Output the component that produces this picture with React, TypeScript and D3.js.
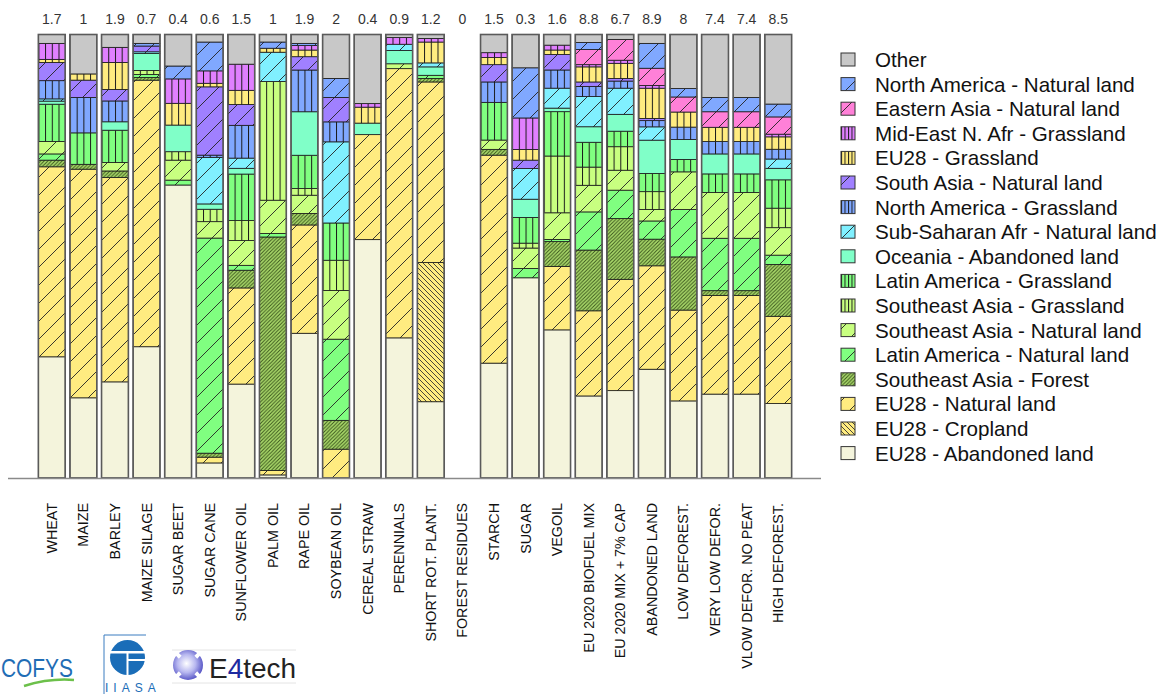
import { useMemo } from "react";
import * as d3 from "d3";

const categories = [
  "WHEAT", "MAIZE", "BARLEY", "MAIZE SILAGE", "SUGAR BEET", "SUGAR CANE",
  "SUNFLOWER OIL", "PALM OIL", "RAPE OIL", "SOYBEAN OIL", "CEREAL STRAW",
  "PERENNIALS", "SHORT ROT. PLANT.", "FOREST RESIDUES", "STARCH", "SUGAR",
  "VEGOIL", "EU 2020 BIOFUEL MIX", "EU 2020 MIX + 7% CAP", "ABANDONED LAND",
  "LOW DEFOREST.", "VERY LOW DEFOR.", "VLOW DEFOR. NO PEAT", "HIGH DEFOREST.",
];

const totals = [1.7, 1, 1.9, 0.7, 0.4, 0.6, 1.5, 1, 1.9, 2, 0.4, 0.9, 1.2, 0, 1.5, 0.3, 1.6, 8.8, 6.7, 8.9, 8, 7.4, 7.4, 8.5];

// shares (%) per category, stack order bottom -> top
const eu28Abandoned = [27.3, 18.1, 21.7, 29.6, 66.0, 3.4, 21.2, 0.7, 32.6, 0, 53.8, 31.6, 17.2, 0, 25.9, 45.1, 33.4, 18.5, 19.7, 24.5, 17.4, 18.9, 18.9, 16.8];
const eu28Cropland = [0, 0, 0, 0, 0, 0, 0, 0, 0, 0, 0, 0, 31.4, 0, 0, 0, 0, 0, 0, 0, 0, 0, 0, 0];
const eu28Natural = [42.8, 51.6, 46.1, 60.1, 0, 1.3, 21.7, 1.0, 24.4, 6.5, 23.7, 60.7, 40.7, 0, 46.9, 0, 14.3, 19.2, 25.1, 23.3, 20.5, 22.2, 22.2, 19.7];
const seAsiaForest = [1.5, 1.1, 1.5, 0.6, 0, 0.9, 4.0, 52.7, 2.6, 6.5, 0, 0, 0.8, 0, 1.3, 0, 5.6, 13.7, 13.7, 6.0, 12.0, 1.1, 1.1, 11.7];
const latAmNatural = [1.4, 0, 0, 0.7, 1.1, 48.5, 1.1, 0.8, 0, 18.3, 0, 0, 0.7, 0, 0, 2.1, 0.5, 8.6, 6.4, 4.1, 10.7, 11.8, 11.8, 2.1];
const seAsiaNatural = [2.8, 0, 1.9, 0, 4.5, 3.7, 5.6, 7.5, 4.1, 11.0, 0, 1.1, 0, 0, 2.1, 4.6, 6.0, 6.0, 4.5, 2.6, 8.5, 10.3, 10.3, 6.2];
const seAsiaGrass = [0, 0, 0, 0.9, 1.9, 2.8, 4.5, 26.8, 1.5, 6.8, 0, 0, 0, 0, 0, 1.1, 12.8, 4.1, 5.3, 4.0, 0, 0, 0, 4.4];
const latAmGrass = [8.4, 7.1, 7.3, 0, 0, 0, 10.5, 0, 7.5, 8.4, 0, 0, 0, 0, 8.5, 5.8, 10.0, 5.6, 3.5, 4.1, 2.8, 4.2, 4.2, 6.4];
const oceaniaAbandoned = [0.7, 0, 1.9, 3.8, 6.0, 1.2, 1.3, 0, 9.8, 0, 2.6, 3.0, 1.9, 0, 0, 4.1, 0.8, 3.5, 3.8, 7.5, 4.5, 4.5, 4.5, 2.6];
const subSaharanNatural = [0.5, 0, 0, 0.4, 0, 10.5, 2.3, 6.6, 0, 18.3, 0, 1.4, 0.9, 0, 0, 6.9, 4.5, 6.8, 5.9, 3.0, 0, 0, 0, 2.1];
const nAmGrass = [4.1, 8.0, 4.7, 0, 0, 0.5, 7.4, 0, 9.4, 4.5, 0, 0, 0, 0, 4.6, 0, 4.1, 2.3, 1.6, 1.4, 2.8, 2.8, 2.8, 2.2];
const southAsiaNatural = [4.1, 3.9, 2.6, 1.3, 0, 15.4, 4.7, 0, 3.0, 5.5, 0, 0, 0, 0, 3.9, 1.9, 3.5, 1.0, 0.6, 0.5, 0, 0, 0, 0];
const eu28Grass = [0.7, 1.4, 6.1, 0, 4.9, 0.8, 3.2, 0.9, 1.5, 0, 3.6, 0, 4.7, 0, 1.6, 2.4, 1.0, 3.4, 3.4, 6.8, 3.4, 3.2, 3.2, 2.8];
const midEastGrass = [3.6, 0, 3.4, 0, 5.5, 2.8, 5.9, 0, 1.0, 0, 0.8, 1.5, 0.8, 0, 1.1, 7.1, 1.1, 0.5, 0.7, 0.6, 0, 0, 0, 0.6];
const eastAsiaNatural = [0, 0, 0, 0, 0, 0, 0, 0, 0, 0, 0, 0, 0, 0, 0, 0, 0, 3.4, 4.7, 3.9, 3.4, 3.5, 3.5, 3.9];
const nAmNatural = [0, 0, 0, 0.6, 2.9, 6.5, 0, 1.4, 0.5, 4.3, 0, 0, 0, 0, 0, 11.3, 0, 1.6, 0, 5.6, 1.9, 3.2, 3.2, 2.9];
const other = [2.0, 8.9, 2.9, 2.0, 7.1, 1.7, 6.7, 1.7, 2.0, 9.9, 15.6, 0.7, 0.9, 0, 4.1, 7.5, 2.4, 1.8, 1.1, 2.0, 12.2, 14.2, 14.2, 15.7];

const seriesNames = [
  "EU28 - Abandoned land", "EU28 - Cropland", "EU28 - Natural land",
  "Southeast Asia - Forest", "Latin America - Natural land",
  "Southeast Asia - Natural land", "Southeast Asia - Grassland",
  "Latin America - Grassland", "Oceania - Abandoned land",
  "Sub-Saharan Afr - Natural land", "North America - Grassland",
  "South Asia - Natural land", "EU28 - Grassland", "Mid-East N. Afr - Grassland",
  "Eastern Asia - Natural land", "North America - Natural land", "Other",
];
const seriesValues = [
  eu28Abandoned, eu28Cropland, eu28Natural, seAsiaForest, latAmNatural,
  seAsiaNatural, seAsiaGrass, latAmGrass, oceaniaAbandoned, subSaharanNatural,
  nAmGrass, southAsiaNatural, eu28Grass, midEastGrass, eastAsiaNatural,
  nAmNatural, other,
];

// fill colour + hatch type per series
const styles = {
  "EU28 - Abandoned land": ["#f4f4dc", null],
  "EU28 - Cropland": ["#ffec80", "back"],
  "EU28 - Natural land": ["#ffec80", "diag"],
  "Southeast Asia - Forest": ["#acdc6c", "dense"],
  "Latin America - Natural land": ["#80ff80", "diag"],
  "Southeast Asia - Natural land": ["#c8ff80", "diag"],
  "Southeast Asia - Grassland": ["#c8ff80", "vert"],
  "Latin America - Grassland": ["#80ff80", "vert"],
  "Oceania - Abandoned land": ["#80ffc8", null],
  "Sub-Saharan Afr - Natural land": ["#80f0ff", "diag"],
  "North America - Grassland": ["#80a8ff", "vert"],
  "South Asia - Natural land": ["#a080ff", "diag"],
  "EU28 - Grassland": ["#ffec80", "vert"],
  "Mid-East N. Afr - Grassland": ["#e080ff", "vert"],
  "Eastern Asia - Natural land": ["#ff80d8", "diag"],
  "North America - Natural land": ["#80a8ff", "diag"],
  "Other": ["#c8c8c8", null],
};

const W = 1161;
const H = 694;
const font = "'Liberation Sans', Arial, sans-serif";

export default function App() {
  const { stacked, x, y } = useMemo(() => {
    const rows = categories.map((c, i) => {
      const r = { cat: c };
      seriesNames.forEach((s, k) => (r[s] = seriesValues[k][i]));
      return r;
    });
    const stacked = d3.stack().keys(seriesNames).offset(d3.stackOffsetExpand)(rows);
    const x = d3.scaleBand().domain(categories).range([36, 794]).paddingInner(0.15).paddingOuter(0.075);
    const y = d3.scaleLinear().domain([0, 1]).range([478, 34.5]);
    return { stacked, x, y };
  }, []);

  const bw = x.bandwidth();
  const legendItems = seriesNames.slice().reverse();

  const segment = (key, x0, y0, w, h, k) => {
    const [color, pat] = styles[key];
    return (
      <g key={k}>
        <rect x={x0} y={y0} width={w} height={h} fill={color} />
        <rect x={x0} y={y0} width={w} height={h}
          fill={pat ? `url(#p-${pat})` : "none"} stroke="#1a1a1a" strokeWidth={0.8} />
      </g>
    );
  };

  return (
    <div style={{ position: "absolute", left: 0, top: 0 }}>
      <svg width={W} height={H} style={{ display: "block", fontFamily: font }}>
        <defs>
          <pattern id="p-diag" patternUnits="userSpaceOnUse" width={18} height={18}>
            <path d="M0,18L18,0M-3,3L3,-3M15,21L21,15" stroke="#222" strokeWidth={0.9} />
          </pattern>
          <pattern id="p-vert" patternUnits="objectBoundingBox" x={0} y={0} width={0.25} height={1}>
            <line x1={0} x2={0} y1={0} y2={3000} stroke="#1a1a1a" strokeWidth={2} />
          </pattern>
          <pattern id="p-dense" patternUnits="userSpaceOnUse" width={3.6} height={3.6}>
            <path d="M0,3.6L3.6,0M-1,1L1,-1M2.6,4.6L4.6,2.6" stroke="#3a561c" strokeWidth={1.0} />
          </pattern>
          <pattern id="p-back" patternUnits="userSpaceOnUse" width={5} height={5}>
            <path d="M0,0L5,5M-1,4L1,6M4,-1L6,1" stroke="#333" strokeWidth={0.9} />
          </pattern>
          <radialGradient id="e4g" cx="0.45" cy="0.45" r="0.6">
            <stop offset="0" stopColor="#ffffff" />
            <stop offset="0.5" stopColor="#b8b8f0" />
            <stop offset="1" stopColor="#4a48c0" />
          </radialGradient>
        </defs>

        <g>
          {stacked.map((s) =>
            s.map((d, i) => {
              const h = y(d[0]) - y(d[1]);
              if (!(h > 0)) return null;
              return segment(s.key, x(categories[i]), y(d[1]), bw, h, `${s.key}-${i}`);
            })
          )}
        </g>
        <g>
          {categories.map((c, i) => {
            const sum = d3.sum(seriesValues, (v) => v[i]);
            if (!sum) return null;
            return (
              <rect key={c} x={x(c)} y={y(1)} width={bw} height={y(0) - y(1)}
                fill="none" stroke="#5a5a5a" strokeWidth={1.6} />
            );
          })}
        </g>

        <line x1={8} x2={821} y1={478.5} y2={478.5} stroke="#8a8a8a" strokeWidth={1.6} />

        <g fontSize={14} fill="#333" textAnchor="middle">
          {categories.map((c, i) => (
            <text key={c} x={x(c) + bw / 2} y={23.5}>{String(totals[i])}</text>
          ))}
        </g>

        <g fontSize={14.3} fill="#111">
          {categories.map((c) => (
            <text key={c} transform={`translate(${x(c) + bw / 2},503) rotate(-90)`}
              textAnchor="end" dominantBaseline="central">{c}</text>
          ))}
        </g>

        <g>
          {legendItems.map((s, i) => {
            const cy = 59.5 + i * 24.6;
            const [color, pat] = styles[s];
            return (
              <g key={s}>
                <rect x={841} y={cy - 6.5} width={14} height={13} fill={color} />
                <rect x={841} y={cy - 6.5} width={14} height={13}
                  fill={pat ? `url(#p-${pat})` : "none"} stroke="#333" strokeWidth={1} />
                <text x={875} y={cy} fontSize={20.6} fill="#111" dominantBaseline="central">{s}</text>
              </g>
            );
          })}
        </g>

        {/* logos */}
        <g>
          <text x={1} y={677} fontSize={26} fill="#1f6db5" textLength={72} lengthAdjust="spacingAndGlyphs">COFYS</text>
          <path d="M24,686 Q50,678 74,680" fill="none" stroke="#6cc04a" strokeWidth={2.5} />

          <path d="M104,694V635H146" fill="none" stroke="#3a7cc0" strokeWidth={1} />
          <circle cx={127.5} cy={657.5} r={17.5} fill="#1a6db8" />
          <rect x={110} y={651} width={36} height={2.5} fill="#fff" />
          <rect x={127} y={659} width={19} height={2} fill="#fff" />
          <rect x={126.5} y={651} width={2} height={24} fill="#fff" />
          <text x={105} y={692} fontSize={12} fill="#1a6db8" letterSpacing={5}>IIASA</text>

          <line x1={172} x2={296} y1={650} y2={650} stroke="#e4e4e4" />
          <line x1={172} x2={296} y1={683} y2={683} stroke="#e4e4e4" />
          <circle cx={188} cy={665} r={15} fill="url(#e4g)" />
          {[45, 135, 225, 315].map((a) => (
            <rect key={a} x={-2} y={-16} width={4} height={5} fill="#fff"
              transform={`translate(188,665) rotate(${a})`} />
          ))}
          <text x={209} y={678} fontSize={28} fill="#222">
            E<tspan fill="#1e2aa0">4</tspan>tech
          </text>
        </g>
      </svg>
    </div>
  );
}
